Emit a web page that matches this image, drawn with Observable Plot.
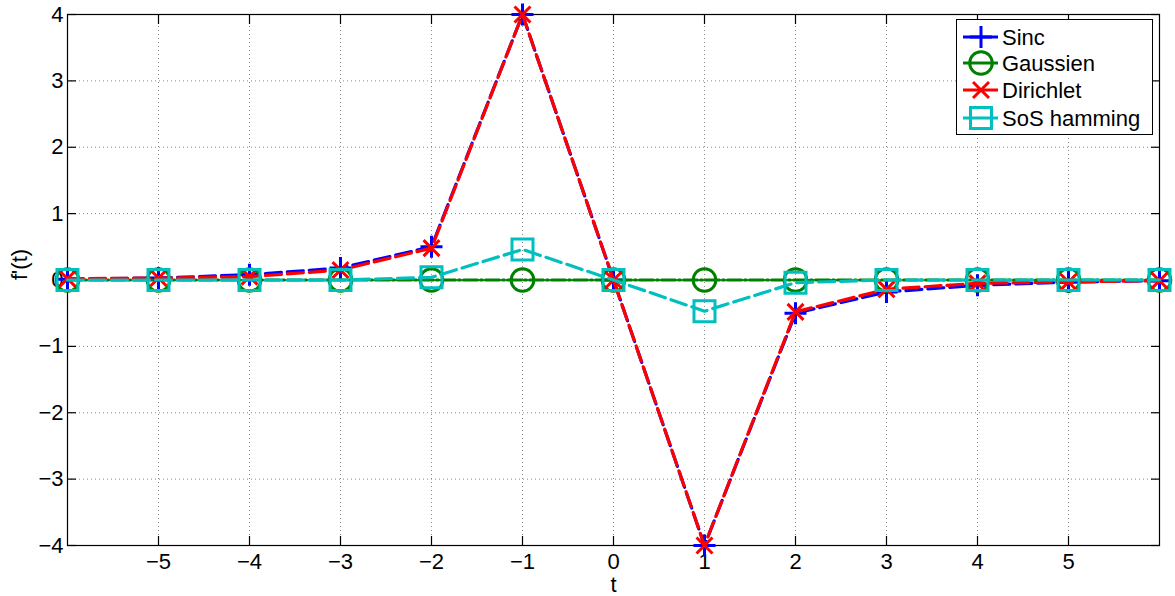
<!DOCTYPE html>
<html><head><meta charset="utf-8">
<script src="https://cdn.jsdelivr.net/npm/d3@7"></script>
<script src="https://cdn.jsdelivr.net/npm/@observablehq/plot@0.6"></script>
<style>
body{margin:0;background:#fff;font-family:"Liberation Sans",Arial,Helvetica,sans-serif;}
#wrap{position:relative;width:1175px;height:596px;overflow:hidden;}
#legend{position:absolute;left:956px;top:19px;width:195px;height:114px;border:1.2px solid #000;background:#fff;}
#legend svg{display:block;}
</style></head><body><div id="wrap"><div id="legend"></div></div>
<script>
// ---- data ----
const t = [-6, -5, -4, -3, -2, -1, 0, 1, 2, 3, 4, 5, 6];
const sinc = [0.01, 0.03, 0.08, 0.18, 0.5, 4, 0, -4, -0.5, -0.18, -0.08, -0.03, -0.01];
const gaussien = [0, 0, 0, 0, 0, 0, 0, 0, 0, 0, 0, 0, 0];
const dirichlet = [0.02, 0.03, 0.05, 0.15, 0.48, 4, 0, -4, -0.48, -0.14, -0.05, -0.03, -0.01];
const sosHamming = [0, 0, 0, 0, 0.04, 0.46, 0, -0.47, -0.04, 0, 0, 0, 0];
const xTicks = [-5, -4, -3, -2, -1, 0, 1, 2, 3, 4, 5];
const yTicks = [-4, -3, -2, -1, 0, 1, 2, 3, 4];
const seriesNames = ["Sinc", "Gaussien", "Dirichlet", "SoS hamming"];
const seriesColors = ["#0000ff", "#008000", "#ff0000", "#00bfbf"];
const seriesSymbols = ["plus", "circle", "times", "square"];
const seriesValues = [sinc, gaussien, dirichlet, sosHamming];

// ---- styles ----
const dashes = ["16,6", "14,3,2,3", "16,6", "16,6"];
const symR = {plus: 7.13, circle: 11.3, times: 7.3, square: 11.85};
const FONT = '"Liberation Sans", Arial, Helvetica, sans-serif';

const seriesMarks = [];
seriesNames.forEach((name, k) => {
  const rows = t.map((x, i) => ({t: x, v: seriesValues[k][i]}));
  seriesMarks.push(Plot.line(rows, {x: "t", y: "v", stroke: seriesColors[k], strokeWidth: 3.2, strokeDasharray: dashes[k]}));
  seriesMarks.push(Plot.dot(rows, {x: "t", y: "v", symbol: seriesSymbols[k], r: symR[seriesSymbols[k]], stroke: seriesColors[k], fill: "none", strokeWidth: 3}));
});

const chart = Plot.plot({
  width: 1175, height: 596,
  marginLeft: 67, marginRight: 16, marginTop: 14, marginBottom: 51,
  x: {domain: [-6, 6]},
  y: {domain: [-4, 4]},
  style: {fontFamily: FONT, fontSize: "22px", background: "white", color: "black", overflow: "visible"},
  marks: [
    Plot.ruleX(xTicks, {x: d => d, stroke: "#8a8a8a", strokeWidth: 1, strokeDasharray: "1,3"}),
    Plot.ruleY(yTicks.filter(v => v > -4 && v < 4), {y: d => d, stroke: "#8a8a8a", strokeWidth: 1, strokeDasharray: "1,3"}),
    Plot.axisX({anchor: "bottom", ticks: xTicks, tickSize: -9, tickFormat: () => "", label: null, strokeWidth: 1.2}),
    Plot.axisX({anchor: "top", ticks: xTicks, tickSize: -9, tickFormat: () => "", label: null, strokeWidth: 1.2}),
    Plot.axisY({anchor: "left", ticks: yTicks, tickSize: -9, tickFormat: () => "", label: null, strokeWidth: 1.2}),
    Plot.axisY({anchor: "right", ticks: yTicks, tickSize: -9, tickFormat: () => "", label: null, strokeWidth: 1.2}),
    Plot.axisX({anchor: "bottom", ticks: xTicks, tickSize: 0, tickPadding: 8, label: null, fontSize: 22}),
    Plot.axisY({anchor: "left", ticks: yTicks, tickSize: 0, tickPadding: 4, label: null, fontSize: 22}),
    Plot.frame({stroke: "black", strokeWidth: 1.2}),
    Plot.text(["t"], {frameAnchor: "bottom", lineAnchor: "bottom", dy: 46, fontSize: 22}),
    Plot.text(["f'(t)"], {frameAnchor: "left", rotate: -90, dx: -48, fontSize: 22}),
    ...seriesMarks
  ]
});
document.getElementById("wrap").prepend(chart);

// ---- legend ----
const lsvg = d3.select("#legend").append("svg").attr("width", 195).attr("height", 114);
const rowY = [17, 43, 70, 98];
const symMap = {plus: d3.symbolPlus, circle: d3.symbolCircle, times: d3.symbolTimes, square: d3.symbolSquare};
seriesNames.forEach((name, k) => {
  const g = lsvg.append("g").attr("transform", `translate(0,${rowY[k]})`);
  g.append("line").attr("x1", 6).attr("x2", 41).attr("y1", 0).attr("y2", 0)
    .attr("stroke", seriesColors[k]).attr("stroke-width", 3.2);
  const r = symR[seriesSymbols[k]];
  g.append("path").attr("transform", "translate(24,0)")
    .attr("d", d3.symbol(symMap[seriesSymbols[k]], r * r * Math.PI)())
    .attr("fill", "none").attr("stroke", seriesColors[k]).attr("stroke-width", 3);
  g.append("text").attr("x", 45).attr("y", 0).attr("dy", "0.35em")
    .attr("font-family", FONT).attr("font-size", 22).attr("fill", "black").text(name);
});
</script>
</body></html>
